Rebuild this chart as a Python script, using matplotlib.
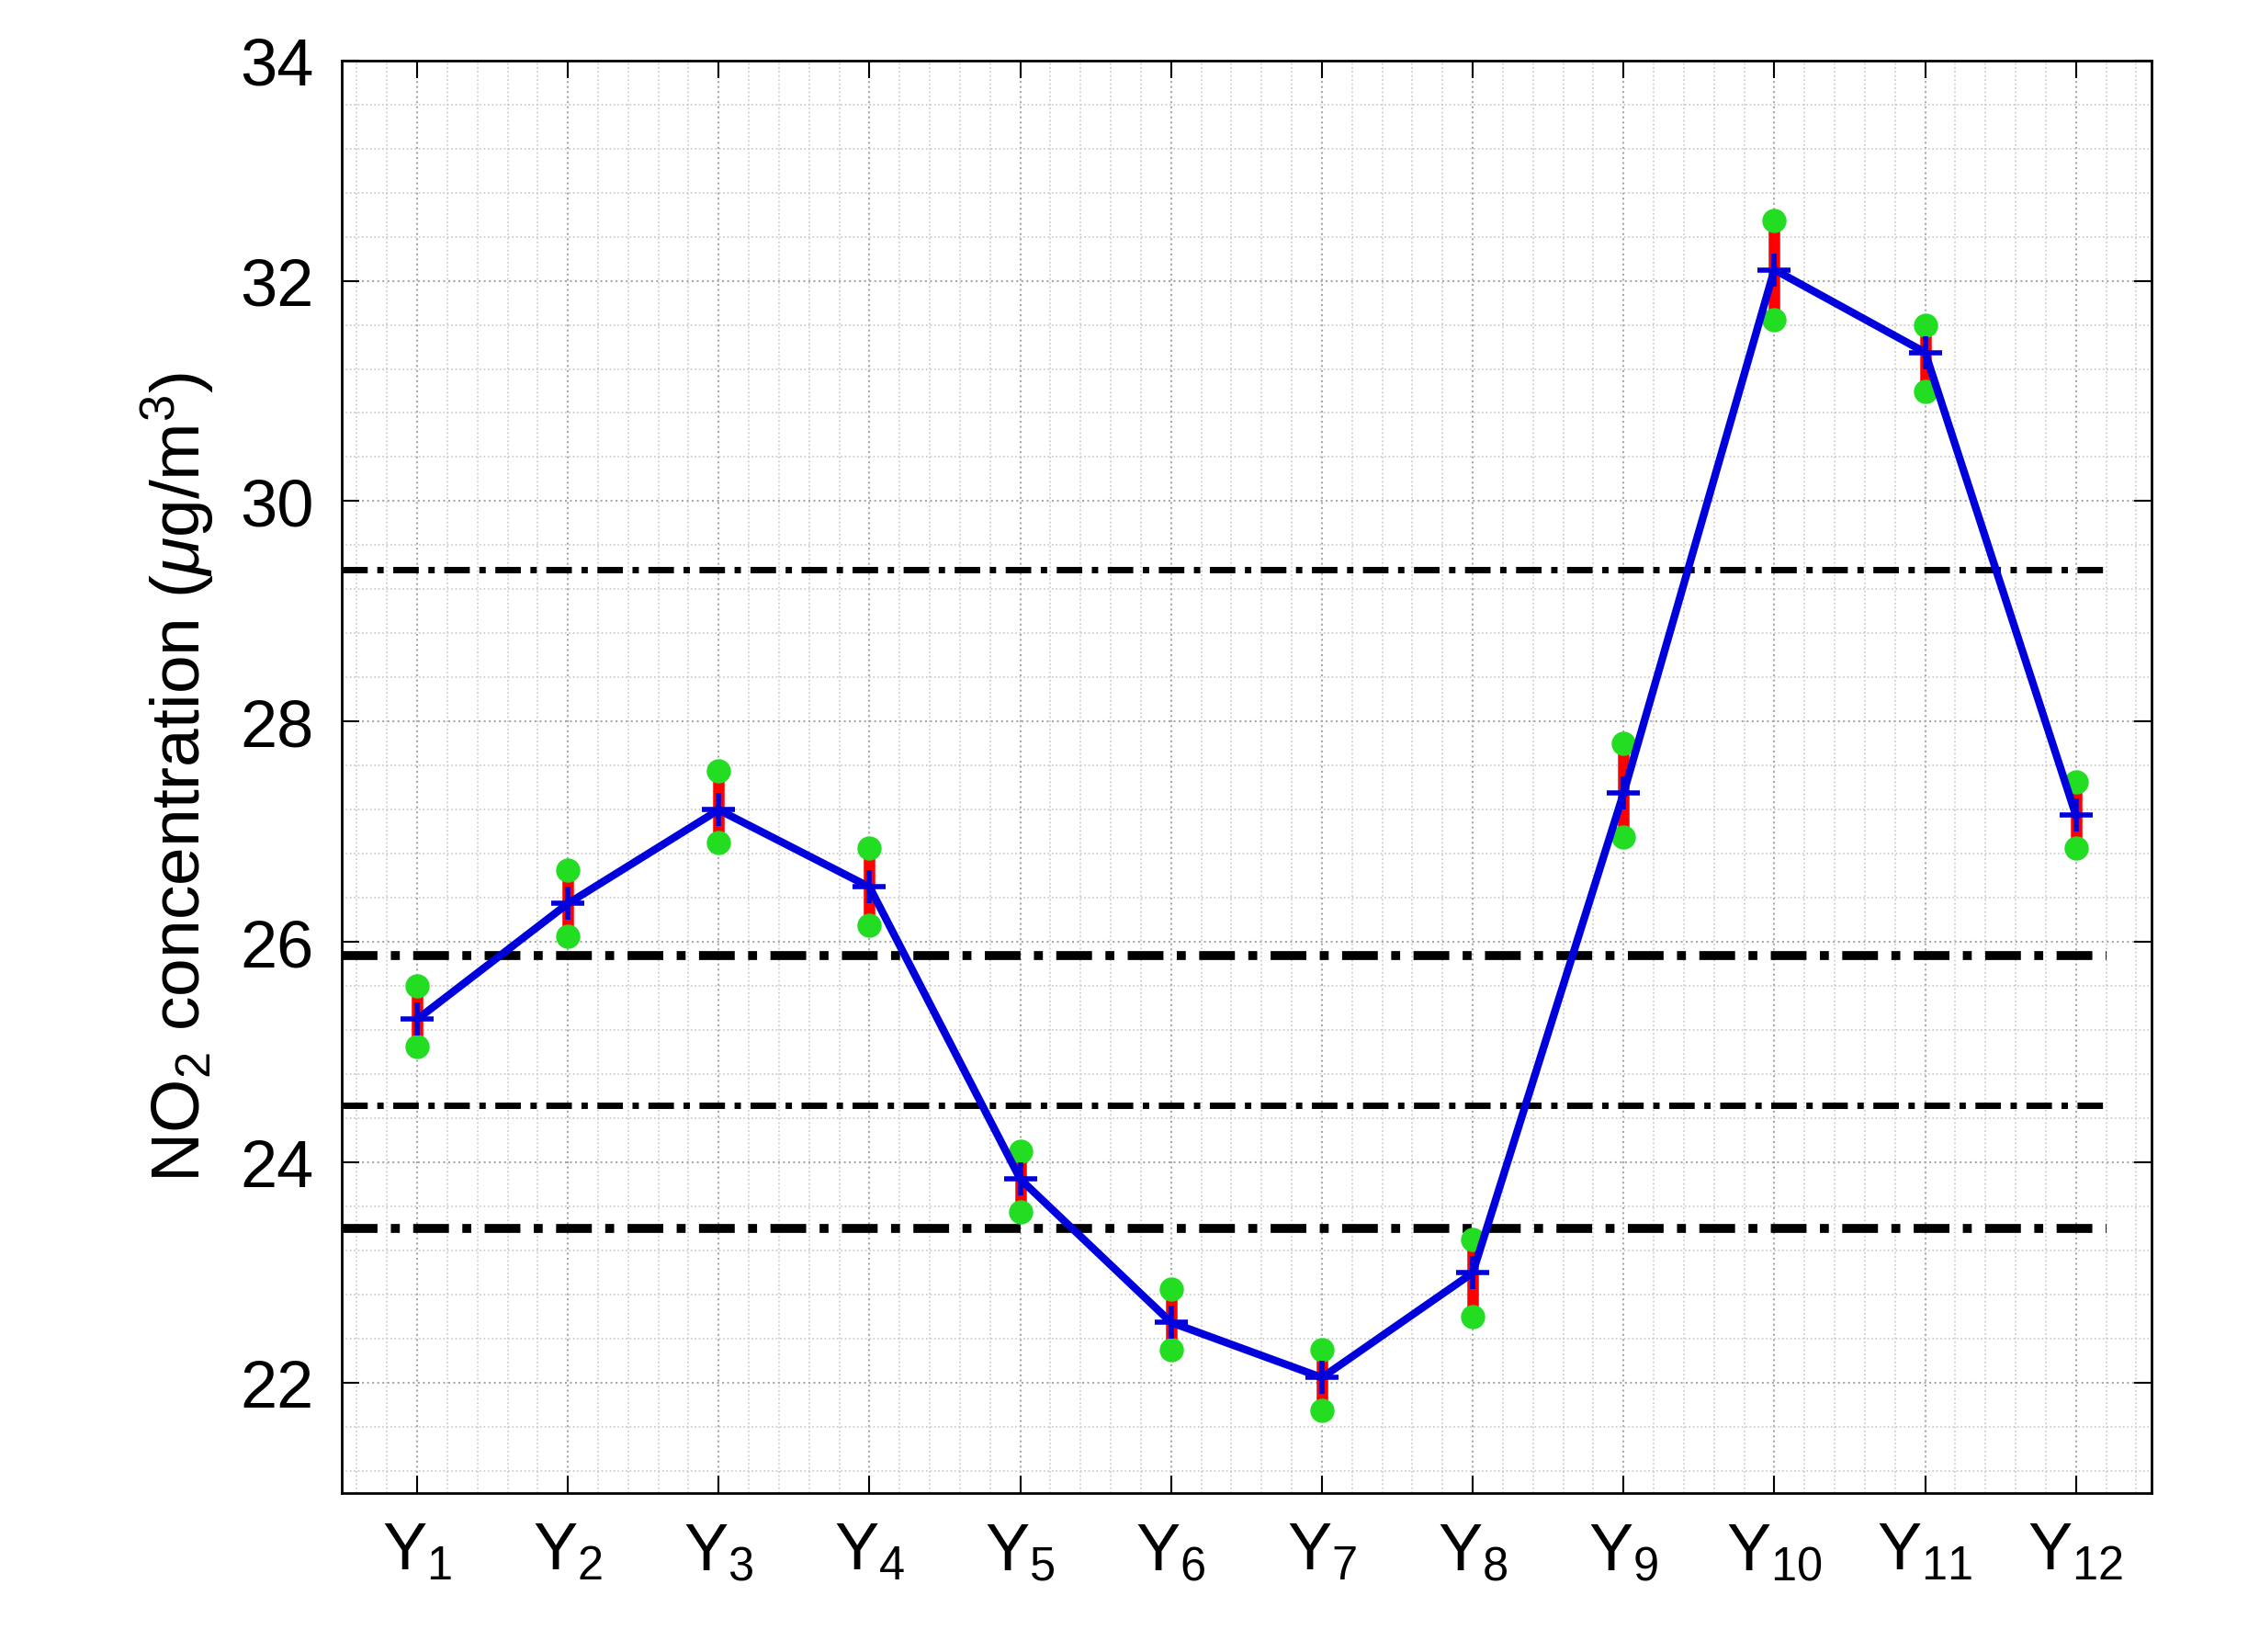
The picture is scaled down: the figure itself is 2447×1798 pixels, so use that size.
import numpy as np
import matplotlib.pyplot as plt
from matplotlib.ticker import MultipleLocator

plt.rcParams["font.family"] = ["Liberation Sans", "DejaVu Sans"]
plt.rcParams["mathtext.fontset"] = "custom"
plt.rcParams["mathtext.rm"] = "Liberation Sans"
plt.rcParams["mathtext.it"] = "Liberation Sans:italic"

labels = ["Y$_{%d}$" % i for i in range(1, 13)]
means = [25.3, 26.35, 27.2, 26.5, 23.85, 22.55, 22.05, 23.0, 27.35, 32.1, 31.35, 27.15]
lows = [25.05, 26.05, 26.9, 26.15, 23.55, 22.3, 21.75, 22.6, 26.95, 31.65, 31.0, 26.85]
highs = [25.6, 26.65, 27.55, 26.85, 24.1, 22.85, 22.3, 23.3, 27.8, 32.55, 31.6, 27.45]
hlines = [29.38, 25.88, 24.52, 23.4]
hwidths = [5, 7, 5, 7]

x = np.arange(1, 13)
fig = plt.figure(figsize=(24.47, 17.99), dpi=100)
ax = fig.add_axes([0.152, 0.096, 0.805, 0.867])

ax.grid(True, which="major", linestyle=":", color="#a8a8a8", linewidth=1.5)
ax.grid(True, which="minor", linestyle=":", color="#c8c8c8", linewidth=1.2)
ax.yaxis.set_minor_locator(MultipleLocator(0.4))
ax.xaxis.set_minor_locator(MultipleLocator(0.2))

for y, w in zip(hlines, hwidths):
    ax.plot([0.5, 12.2], [y, y], color="black", linestyle="-.", linewidth=w, dashes=(4, 1.5, 1, 1.5))

for xi, lo, hi in zip(x, lows, highs):
    ax.plot([xi, xi], [lo, hi], color="red", linewidth=9, zorder=3)
ax.plot(x, lows, "o", color="#22dd22", markersize=18, zorder=4)
ax.plot(x, highs, "o", color="#22dd22", markersize=18, zorder=4)
ax.plot(x, means, "-", color="#0000dd", linewidth=6, marker="+", markersize=26, mew=4, zorder=5)

ax.set_xlim(0.5, 12.5)
ax.set_ylim(21, 34)
ax.set_xticks(x)
ax.set_xticklabels(labels)
ax.set_yticks(range(22, 35, 2))
ax.tick_params(axis="both", which="major", labelsize=52, direction="in", length=14, width=1.5,
               top=True, right=True, pad=22)
ax.tick_params(axis="both", which="minor", length=0)
ax.set_ylabel("NO$_2$ concentration ($\\mu$g/m$^3$)", fontsize=54, labelpad=18)
for s in ax.spines.values():
    s.set_linewidth(2)

fig.savefig("out.png")
